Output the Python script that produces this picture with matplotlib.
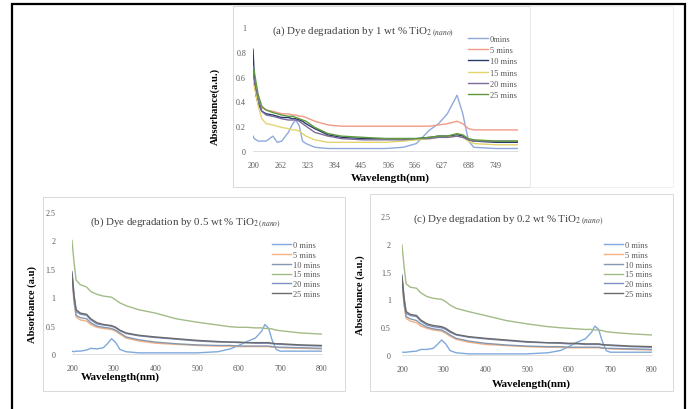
import numpy as np
import matplotlib
matplotlib.use("Agg")
import matplotlib.pyplot as plt
from matplotlib.patches import Rectangle

plt.rcParams['font.family'] = ['Liberation Serif', 'DejaVu Serif']
plt.rcParams['mathtext.fontset'] = 'stix'

W, H = 689, 410

# ---- donnees ----
times = ['0mins', '5 mins', '10 mins', '15 mins', '20 mins', '25 mins']
times_bc = ['0 mins', '5 mins', '10 mins', '15 mins', '20 mins', '25 mins']

# (a) 1 wt %
wl_a = [200, 203, 207, 212, 220, 230, 245, 255, 265, 280, 290, 297, 305, 312, 320, 340,
        370, 400, 450, 500, 540, 570, 600, 620, 640, 662, 675, 688, 700, 750, 800]
a_0 = [0.12, 0.10, 0.09, 0.08, 0.08, 0.08, 0.12, 0.07, 0.08, 0.15, 0.22, 0.25, 0.20, 0.08, 0.06, 0.03,
       0.02, 0.02, 0.02, 0.02, 0.03, 0.06, 0.17, 0.22, 0.30, 0.45, 0.30, 0.08, 0.03, 0.02, 0.02]
a_5 = [0.62, 0.55, 0.45, 0.38, 0.35, 0.33, 0.32, 0.31, 0.30, 0.30, 0.29, 0.29, 0.28, 0.28, 0.27, 0.24,
       0.21, 0.20, 0.20, 0.20, 0.20, 0.20, 0.20, 0.21, 0.22, 0.24, 0.22, 0.18, 0.17, 0.17, 0.17]
a_10 = [0.82, 0.60, 0.45, 0.38, 0.32, 0.30, 0.29, 0.28, 0.27, 0.27, 0.26, 0.26, 0.25, 0.24, 0.22, 0.18,
        0.13, 0.11, 0.10, 0.10, 0.10, 0.10, 0.11, 0.12, 0.12, 0.13, 0.12, 0.09, 0.08, 0.07, 0.07]
a_15 = [0.55, 0.52, 0.45, 0.36, 0.26, 0.22, 0.21, 0.20, 0.19, 0.18, 0.17, 0.17, 0.16, 0.14, 0.12, 0.09,
        0.07, 0.07, 0.07, 0.07, 0.08, 0.09, 0.10, 0.11, 0.11, 0.12, 0.11, 0.08, 0.06, 0.05, 0.05]
a_20 = [0.62, 0.58, 0.50, 0.42, 0.32, 0.29, 0.28, 0.27, 0.26, 0.25, 0.25, 0.25, 0.24, 0.22, 0.20, 0.15,
        0.12, 0.10, 0.09, 0.09, 0.09, 0.10, 0.10, 0.11, 0.11, 0.12, 0.11, 0.09, 0.08, 0.08, 0.08]
a_25 = [0.68, 0.64, 0.55, 0.45, 0.36, 0.33, 0.31, 0.30, 0.29, 0.28, 0.28, 0.27, 0.26, 0.25, 0.24, 0.19,
        0.14, 0.12, 0.11, 0.10, 0.10, 0.10, 0.11, 0.12, 0.12, 0.14, 0.13, 0.10, 0.09, 0.08, 0.08]
ticks_a = [200, 262, 323, 384, 445, 506, 566, 627, 688, 749]

# (b) 0.5 wt % et (c) 0.2 wt %
wl_bc = [200, 205, 210, 220, 235, 245, 260, 275, 285, 295, 305, 315, 330, 360, 400, 450,
         500, 550, 580, 600, 620, 640, 655, 663, 672, 680, 690, 700, 750, 800]
b_0 = [0.05, 0.04, 0.05, 0.05, 0.07, 0.10, 0.09, 0.11, 0.18, 0.27, 0.20, 0.08, 0.04, 0.02, 0.02, 0.02,
       0.02, 0.04, 0.09, 0.15, 0.22, 0.28, 0.40, 0.52, 0.45, 0.25, 0.08, 0.05, 0.05, 0.05]
b_5 = [1.35, 0.90, 0.65, 0.60, 0.58, 0.52, 0.47, 0.45, 0.44, 0.43, 0.40, 0.35, 0.28, 0.23, 0.19, 0.17,
       0.15, 0.14, 0.14, 0.13, 0.13, 0.13, 0.13, 0.13, 0.13, 0.12, 0.12, 0.11, 0.10, 0.09]
b_10 = [1.38, 0.95, 0.68, 0.64, 0.62, 0.55, 0.49, 0.47, 0.46, 0.45, 0.42, 0.37, 0.30, 0.25, 0.21, 0.18,
        0.16, 0.15, 0.15, 0.14, 0.14, 0.14, 0.14, 0.14, 0.14, 0.13, 0.12, 0.12, 0.11, 0.10]
b_15 = [2.00, 1.60, 1.30, 1.22, 1.18, 1.10, 1.05, 1.02, 1.01, 1.00, 0.95, 0.90, 0.85, 0.78, 0.72, 0.62,
        0.56, 0.51, 0.48, 0.47, 0.47, 0.46, 0.46, 0.45, 0.45, 0.44, 0.42, 0.41, 0.37, 0.35]
b_20 = [1.45, 1.05, 0.75, 0.70, 0.68, 0.60, 0.53, 0.51, 0.50, 0.49, 0.46, 0.41, 0.36, 0.32, 0.29, 0.26,
        0.23, 0.21, 0.21, 0.20, 0.20, 0.19, 0.19, 0.19, 0.19, 0.18, 0.18, 0.17, 0.15, 0.14]
b_25 = [1.42, 1.00, 0.78, 0.72, 0.70, 0.62, 0.55, 0.52, 0.51, 0.50, 0.47, 0.42, 0.37, 0.33, 0.30, 0.27,
        0.24, 0.22, 0.21, 0.21, 0.20, 0.20, 0.20, 0.20, 0.20, 0.19, 0.18, 0.18, 0.16, 0.15]

c_0 = [0.05, 0.05, 0.05, 0.06, 0.07, 0.10, 0.10, 0.12, 0.19, 0.27, 0.20, 0.08, 0.04, 0.02, 0.02, 0.02,
       0.02, 0.04, 0.08, 0.15, 0.23, 0.29, 0.41, 0.52, 0.46, 0.26, 0.08, 0.05, 0.05, 0.05]
c_5 = [1.33, 0.88, 0.66, 0.61, 0.58, 0.52, 0.48, 0.45, 0.44, 0.43, 0.39, 0.34, 0.28, 0.23, 0.19, 0.17,
       0.15, 0.14, 0.14, 0.13, 0.13, 0.13, 0.13, 0.13, 0.13, 0.12, 0.12, 0.11, 0.10, 0.09]
c_10 = [1.37, 0.94, 0.69, 0.65, 0.62, 0.56, 0.50, 0.47, 0.46, 0.45, 0.41, 0.36, 0.30, 0.25, 0.21, 0.18,
        0.16, 0.15, 0.15, 0.14, 0.14, 0.14, 0.14, 0.14, 0.14, 0.13, 0.12, 0.12, 0.11, 0.10]
c_15 = [1.98, 1.58, 1.28, 1.22, 1.20, 1.12, 1.05, 1.02, 1.01, 1.00, 0.96, 0.90, 0.84, 0.78, 0.71, 0.62,
        0.56, 0.51, 0.49, 0.48, 0.47, 0.46, 0.46, 0.45, 0.45, 0.44, 0.42, 0.41, 0.38, 0.36]
c_20 = [1.44, 1.04, 0.75, 0.71, 0.69, 0.61, 0.54, 0.51, 0.50, 0.49, 0.46, 0.41, 0.36, 0.32, 0.29, 0.26,
        0.23, 0.22, 0.21, 0.20, 0.20, 0.19, 0.19, 0.19, 0.19, 0.18, 0.18, 0.17, 0.15, 0.14]
c_25 = [1.41, 1.00, 0.78, 0.73, 0.71, 0.63, 0.56, 0.53, 0.52, 0.51, 0.48, 0.43, 0.37, 0.33, 0.30, 0.27,
        0.24, 0.22, 0.22, 0.21, 0.21, 0.20, 0.20, 0.20, 0.20, 0.19, 0.18, 0.18, 0.16, 0.15]
ticks_bc = [200, 300, 400, 500, 600, 700, 800]
yticks_bc = [0, 0.5, 1, 1.5, 2, 2.5]

colors_a = ['#8eaadb', '#f19a86', '#243b6b', '#e3d46e', '#7d6c9c', '#5e9a3c']
colors_bc = ['#7fa9dc', '#f4b183', '#8497b0', '#a3bb86', '#7f8fc0', '#6b6b6b']


def box(l, t, r, b):
    # pixels -> coordonnees figure
    return [l / W, 1 - b / H, (r - l) / W, (b - t) / H]


def style_axes(ax, ypad, xpad):
    for s in ['top', 'right', 'left']:
        ax.spines[s].set_visible(False)
    ax.spines['bottom'].set_color('#d9d9d9')
    ax.spines['bottom'].set_linewidth(0.6)
    ax.tick_params(length=0, labelsize=5.8, labelcolor='#595959')
    ax.tick_params(axis='y', pad=ypad)
    ax.tick_params(axis='x', pad=xpad)
    ax.patch.set_alpha(0)


fig = plt.figure(figsize=(W / 100, H / 100), dpi=100)

# cadres
fig.patches.append(Rectangle((12 / W, -0.02), (685 - 12) / W, 1 - 5 / H + 0.02,
                             transform=fig.transFigure, fill=False, ec='black', lw=1.6))
for (l, t, r, b) in [(233, 7, 530, 188), (43, 198, 345, 392), (370, 195, 673, 392)]:
    fig.patches.append(Rectangle((l / W, 1 - b / H), (r - l) / W, (b - t) / H,
                                 transform=fig.transFigure, fill=False, ec='#d9d9d9', lw=0.7))
fig.patches.append(Rectangle((530 / W, 1 - 188 / H), (673 - 530) / W, (188 - 7) / H,
                             transform=fig.transFigure, fill=False, ec='#eeeeee', lw=0.6))

# (a)
ax_a = fig.add_axes(box(253, 28, 518, 152))
for y, c, lab in zip([a_0, a_5, a_10, a_15, a_20, a_25], colors_a, times):
    ax_a.plot(wl_a, y, color=c, lw=1.0, label=lab)
ax_a.set_xlim(200, 800)
ax_a.set_ylim(0, 1)
ax_a.set_xticks(ticks_a)
ax_a.set_yticks([0, 0.2, 0.4, 0.6, 0.8, 1])
ax_a.set_yticklabels(['0', '0.2', '0.4', '0.6', '0.8', '1'])
style_axes(ax_a, 5, 7)
ax_a.legend(loc='upper left', bbox_to_anchor=(468 / W, 1 - 36 / H), bbox_transform=fig.transFigure,
            frameon=False, fontsize=6, handlelength=2.4, handletextpad=0.2,
            labelspacing=0.38, borderpad=0, borderaxespad=0, labelcolor='#595959')

# (b) et (c)
ax_b = fig.add_axes(box(72, 213, 322, 355))
ax_c = fig.add_axes(box(402, 217, 652, 356))
for ax, series, ypad, leg_x in [(ax_b, [b_0, b_5, b_10, b_15, b_20, b_25], 12, 272),
                                (ax_c, [c_0, c_5, c_10, c_15, c_20, c_25], 8, 604)]:
    for y, c, lab in zip(series, colors_bc, times_bc):
        ax.plot(wl_bc, y, color=c, lw=1.0, label=lab)
    ax.set_xlim(200, 800)
    ax.set_ylim(0, 2.5)
    ax.set_xticks(ticks_bc)
    ax.set_yticks(yticks_bc)
    ax.set_yticklabels(['0', '0.5', '1', '1.5', '2', '2.5'])
    style_axes(ax, ypad, 7)
    ax.legend(loc='upper left', bbox_to_anchor=(leg_x / W, 1 - 242 / H), bbox_transform=fig.transFigure,
              frameon=False, fontsize=6, handlelength=2.3, handletextpad=0.2,
              labelspacing=0.22, borderpad=0, borderaxespad=0, labelcolor='#595959')

# textes
fig.text(272 / W, 1 - 32 / H, r'(a) Dye degradation by 1 wt % TiO$_{2\ (nano)}$',
         fontsize=7.8, color='#404040', va='center', ha='left')
fig.text(90 / W, 1 - 223 / H, r'(b) Dye degradation by 0.5 wt % TiO$_{2\ (nano)}$',
         fontsize=7.8, color='#404040', va='center', ha='left')
fig.text(413 / W, 1 - 220 / H, r'(c) Dye degradation by 0.2 wt % TiO$_{2\ (nano)}$',
         fontsize=7.8, color='#404040', va='center', ha='left')

fig.text(215 / W, 1 - 106 / H, 'Absorbance(a.u.)', rotation=90, fontsize=7.6, fontweight='bold',
         va='center', ha='center')
fig.text(32 / W, 1 - 305 / H, 'Absorbance (a.u)', rotation=90, fontsize=7.6, fontweight='bold',
         va='center', ha='center')
fig.text(360 / W, 1 - 295 / H, 'Absorbance (a.u.)', rotation=90, fontsize=7.6, fontweight='bold',
         va='center', ha='center')

fig.text(390 / W, 1 - 178 / H, 'Wavelength(nm)', fontsize=8, fontweight='bold', va='center', ha='center')
fig.text(120 / W, 1 - 377 / H, 'Wavelength(nm)', fontsize=8, fontweight='bold', va='center', ha='center')
fig.text(531 / W, 1 - 384 / H, 'Wavelength(nm)', fontsize=8, fontweight='bold', va='center', ha='center')

fig.savefig('out.png', dpi=100)
